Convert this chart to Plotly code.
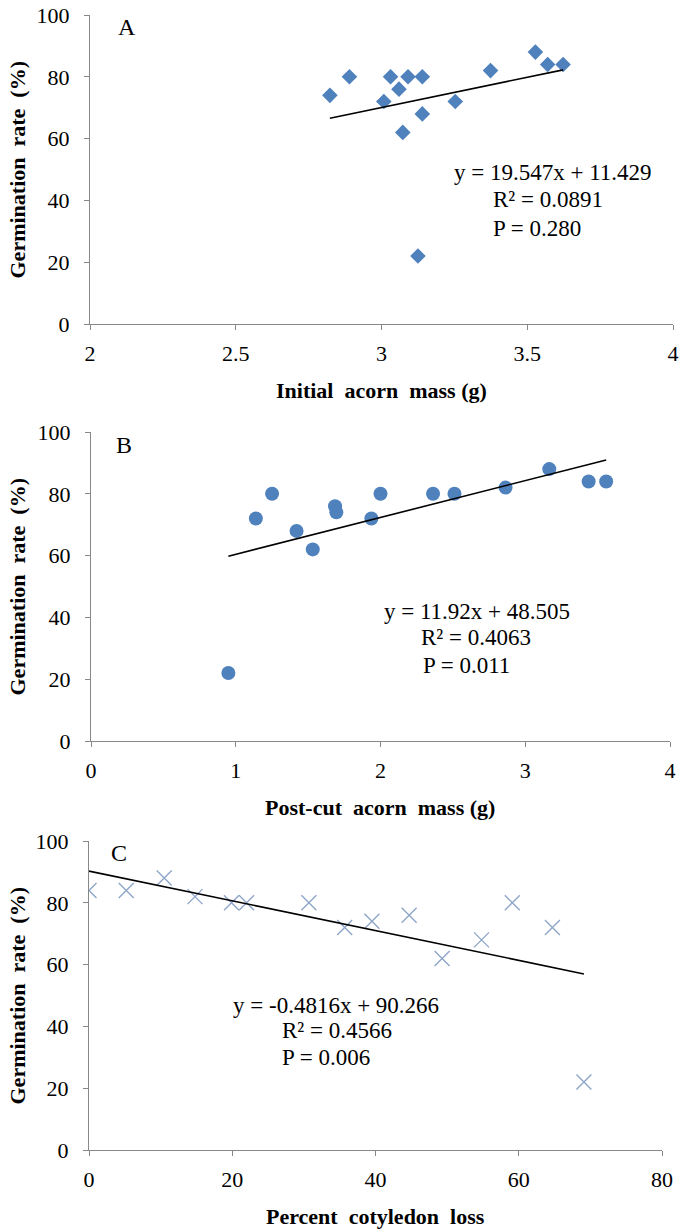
import plotly.graph_objects as go

# Panel A: initial acorn mass (g) vs germination rate (%)
a_mass = [2.823, 2.89, 3.008, 3.031, 3.06, 3.073, 3.091, 3.125, 3.14, 3.14, 3.253, 3.374, 3.528, 3.57, 3.623]
a_germ = [74, 80, 72, 80, 76, 62, 80, 22, 80, 68, 72, 82, 88, 84, 84]
a_slope, a_int = 19.547, 11.429

# Panel B: post-cut acorn mass (g) vs germination rate (%)
b_mass = [0.949, 1.139, 1.251, 1.42, 1.532, 1.686, 1.695, 1.937, 2.0, 2.363, 2.511, 2.864, 3.166, 3.438, 3.559]
b_germ = [22, 72, 80, 68, 62, 76, 74, 72, 80, 80, 80, 82, 88, 84, 84]
b_slope, b_int = 11.92, 48.505

# Panel C: percent cotyledon loss vs germination rate (%)
c_loss = [0, 5.2, 10.5, 14.8, 19.9, 22.0, 30.7, 35.7, 39.5, 44.7, 49.3, 54.8, 59.1, 64.7, 69.1]
c_germ = [84, 84, 88, 82, 80, 80, 80, 72, 74, 76, 62, 68, 80, 72, 22]
c_slope, c_int = -0.4816, 90.266

x_titles = ["Initial  acorn  mass (g)", "Post-cut  acorn  mass (g)", "Percent  cotyledon  loss"]
y_title = "Germination  rate  (%)"
panel_letters = ["A", "B", "C"]
eq_texts = [
    ["y = 19.547x + 11.429", "R² = 0.0891", "P = 0.280"],
    ["y = 11.92x + 48.505", "R² = 0.4063", "P = 0.011"],
    ["y = -0.4816x + 90.266", "R² = 0.4566", "P = 0.006"],
]

W, H = 685, 1229
FONT = "Liberation Serif, Times New Roman, serif"
BLUE = "#4F81BD"
AXC = "#888888"

def px(x):
    return x / W

def py(y):
    return 1 - y / H

fig = go.Figure()

def trend(xs, m, b):
    lo, hi = min(xs), max(xs)
    return [lo, hi], [m * lo + b, m * hi + b]

# A
fig.add_trace(go.Scatter(x=a_mass, y=a_germ, mode="markers", xaxis="x", yaxis="y",
                         marker=dict(symbol="diamond", size=12, color=BLUE, line=dict(width=0))))
tx, ty = trend(a_mass, a_slope, a_int)
fig.add_trace(go.Scatter(x=tx, y=ty, mode="lines", xaxis="x", yaxis="y",
                         line=dict(color="black", width=1.6)))
# B
fig.add_trace(go.Scatter(x=b_mass, y=b_germ, mode="markers", xaxis="x2", yaxis="y2",
                         marker=dict(symbol="circle", size=14, color=BLUE, line=dict(width=0))))
tx, ty = trend(b_mass, b_slope, b_int)
fig.add_trace(go.Scatter(x=tx, y=ty, mode="lines", xaxis="x2", yaxis="y2",
                         line=dict(color="black", width=1.6)))
# C
fig.add_trace(go.Scatter(x=c_loss, y=c_germ, mode="markers", xaxis="x3", yaxis="y3",
                         marker=dict(symbol="x-thin", size=15, color="#8FA6C9",
                                     line=dict(width=1.4, color="#8FA6C9"))))
tx, ty = trend(c_loss, c_slope, c_int)
fig.add_trace(go.Scatter(x=tx, y=ty, mode="lines", xaxis="x3", yaxis="y3",
                         line=dict(color="black", width=1.6)))

axis_common = dict(showgrid=False, zeroline=False, showline=True, linecolor=AXC, linewidth=1,
                   ticks="outside", ticklen=5, tickcolor=AXC, tickwidth=1, automargin=False,
                   tickfont=dict(family=FONT, size=22, color="black"))

# pixel geometry of each panel: (x_left, x_right, y_top(100), y_bottom(0))
geo = [(90, 673, 15, 324), (91, 670, 432, 741), (89, 662, 841, 1150)]

layout = dict(width=W, height=H, margin=dict(l=0, r=0, t=0, b=0),
              paper_bgcolor="white", plot_bgcolor="white", showlegend=False)
xr = [dict(range=[2, 4], dtick=0.5), dict(range=[0, 4], dtick=1), dict(range=[0, 80], dtick=20)]
for i, (xl, xrgt, yt, yb) in enumerate(geo):
    sfx = "" if i == 0 else str(i + 1)
    layout["xaxis" + sfx] = dict(axis_common, domain=[px(xl), px(xrgt)], anchor="y" + sfx,
                                 ticklabelstandoff=5, **xr[i])
    layout["yaxis" + sfx] = dict(axis_common, domain=[py(yb), py(yt)], anchor="x" + sfx,
                                 range=[0, 100], dtick=20, ticklabelstandoff=10)
fig.update_layout(**layout)

title_font = dict(family=FONT, size=22, color="black")
ann_font = dict(family=FONT, size=23, color="black")
letter_font = dict(family=FONT, size=24, color="black")

for i, (xl, xrgt, yt, yb) in enumerate(geo):
    # axis titles
    fig.add_annotation(x=px((xl + xrgt) / 2), y=py(yb + 66), xref="paper", yref="paper",
                       text="<b>" + x_titles[i] + "</b>", showarrow=False,
                       xanchor="center", yanchor="middle", font=title_font)
    fig.add_annotation(x=px(17), y=py((yt + yb) / 2), xref="paper", yref="paper",
                       text="<b>" + y_title + "</b>", showarrow=False, textangle=-90,
                       xanchor="center", yanchor="middle", font=title_font)

# panel letters
for (lx, ly), t in zip([(127, 27), (124, 445), (119, 853)], panel_letters):
    fig.add_annotation(x=px(lx), y=py(ly), xref="paper", yref="paper", text=t,
                       showarrow=False, xanchor="center", yanchor="middle", font=letter_font)

# regression labels (positions in each panel's data space)
label_pos = [
    ("x", "y", (3.59, 48.9), (3.375, 40.2), (3.375, 30.8)),
    ("x2", "y2", (2.665, 42.0), (2.266, 33.6), (2.28, 24.4)),
    ("x3", "y3", (34.5, 46.9), (26.6, 38.6), (26.6, 29.8)),
]
for (xref, yref, eqp, rp, pp), texts in zip(label_pos, eq_texts):
    fig.add_annotation(x=eqp[0], y=eqp[1], xref=xref, yref=yref, text=texts[0], showarrow=False,
                       xanchor="center", yanchor="middle", font=ann_font)
    fig.add_annotation(x=rp[0], y=rp[1], xref=xref, yref=yref, text=texts[1], showarrow=False,
                       xanchor="left", yanchor="middle", font=ann_font)
    fig.add_annotation(x=pp[0], y=pp[1], xref=xref, yref=yref, text=texts[2], showarrow=False,
                       xanchor="left", yanchor="middle", font=ann_font)

fig.write_html("out.html", config={"displayModeBar": False},
               post_script="document.body.style.margin='0';document.body.style.overflow='hidden';")
